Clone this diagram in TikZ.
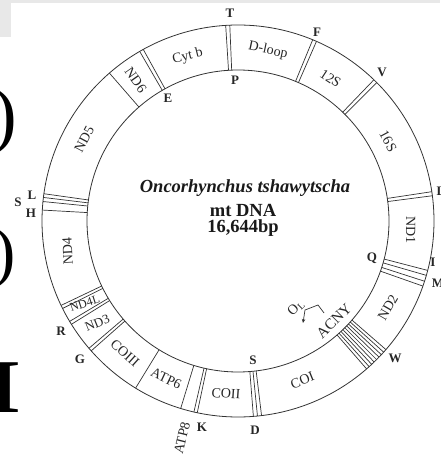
\documentclass[tikz,border=0pt]{standalone}
\usepackage{fontspec}
\setmainfont{Liberation Serif}
\usetikzlibrary{arrows.meta}
\begin{document}
\begin{tikzpicture}[x=1pt,y=1pt,
  ring/.style={line width=0.8pt, draw=black!80},
  sep/.style={line width=0.7pt, draw=black!80},
  gene/.style={font=\fontsize{14}{14}\selectfont, text=black!85, inner sep=0pt},
  site/.style={font=\fontsize{13}{13}\selectfont\bfseries, text=black!85, inner sep=0pt},
  titletext/.style={text=black!90, inner sep=0pt},
  artifact/.style={fill=black!9, draw=none},
  cropped/.style={anchor=base west, inner sep=0pt, text=black}
]
\useasboundingbox (0,0) rectangle (440,461);
% cropped fragments at the left edge
\fill[artifact] (0,458) rectangle (440,461);
\fill[artifact] (0,424) rectangle (11,461);
\node[cropped, font=\fontsize{74}{74}\selectfont] (paren1) at (-8,321) {)};
\node[cropped, font=\fontsize{67}{67}\selectfont] (paren2) at (-7,186) {)};
\node[cropped, font=\fontsize{76}{76}\selectfont\bfseries, xscale=1.25] (capI) at (-16,48) {I};

\begin{scope}[shift={(238,240)}]
\draw[ring] (0,0) circle[radius=196pt];
\draw[ring] (0,0) circle[radius=151pt];
% gene boundaries
\foreach \a in {131, 238.5, 253, 92.4, 93.6, 66.4, 67.6, 44.9, 46.1, 7.4, 8.6,
  118.9, 120.1, 205.5, 206.5, 210.8, 211.8, 220.5, 221.5, 257, 258,
  274.5, 275.7, 276.9, 172, 173.1, 174.3, 176.8, -14.6, -16.1, -17.9, -19.4}
  \draw[sep] (\a:151pt) -- (\a:196pt);
\foreach \a in {-41,-42,...,-49}
  \draw[sep] (\a:151pt) -- (\a:196pt);

% gene labels
\node[gene, rotate=-12] (gDloop) at (80:173pt) {D-loop};
\node[gene, rotate=-33] (g12S) at (57:170pt) {12S};
\node[gene, rotate=-62] (g16S) at (28:170pt) {16S};
\node[gene, rotate=-90] (gND1) at (-3:173pt) {ND1};
\node[gene, rotate=60] (gND2) at (-30:173pt) {ND2};
\node[gene, rotate=22] (gCOI) at (-68:172pt) {COI};
\node[gene, rotate=-4] (gCOII) at (-94:173pt) {COII};
\node[gene, rotate=-25] (gATP6) at (245.5:173pt) {ATP6};
\node[gene, rotate=-42] (gCOIII) at (229.5:174pt) {COIII};
\node[gene, rotate=22, font=\fontsize{13}{13}\selectfont] (gND3) at (216:174pt) {ND3};
\node[gene, rotate=18, font=\fontsize{12}{12}\selectfont] (gND4L) at (208.3:174pt) {ND4L};
\node[gene, rotate=93] (gND4) at (190:173pt) {ND4};
\node[gene, rotate=62] (gND5) at (152:174pt) {ND5};
\node[gene, rotate=-55] (gND6) at (126:174pt) {ND6};
\node[gene, rotate=14] (gCytb) at (107:172pt) {Cyt b};
\node[gene, rotate=76] (gATP8) at (-56,-217) {ATP8};
\node[gene, rotate=45, font=\fontsize{15}{15}\selectfont] (gACNY) at (96,-100) {ACNY};
\node[gene, rotate=45] (gOL) at (58,-87) {O\textsubscript{L}};

% tRNA letters
\node[site] (tT) at (-8,208) {T};
\node[site] (tP) at (-3,141) {P};
\node[site] (tF) at (79,189) {F};
\node[site] (tV) at (144,149) {V};
\node[site] (tLr) at (203,30) {L};
\node[site] (tQ) at (134,-37) {Q};
\node[site] (tI) at (195,-41) {I};
\node[site] (tM) at (200,-62) {M};
\node[site] (tW) at (157,-137) {W};
\node[site] (tS) at (15,-139) {S};
\node[site] (tD) at (17,-209) {D};
\node[site] (tK) at (-36,-206) {K};
\node[site] (tG) at (-158,-138) {G};
\node[site] (tR) at (-177,-110) {R};
\node[site] (tH) at (-207,8) {H};
\node[site] (tLl) at (-206,26) {L};
\node[site] (tSl) at (-220,19) {S};
\node[site] (tE) at (-70,123) {E};

% origin of light-strand replication
\coordinate (olEnd) at (86,-92);
\coordinate (olC2) at (80,-84);
\coordinate (olC1) at (67,-89);
\coordinate (olTip) at (65,-102);
\draw[sep, -{Stealth[length=4pt,width=3.5pt]}] (olEnd) -- (olC2) -- (olC1) -- (olTip);

% centre title
\node[titletext, font=\fontsize{18.5}{20}\selectfont\bfseries\itshape] (sp) at (7,33) {Oncorhynchus tshawytscha};
\node[titletext, font=\fontsize{18.5}{20}\selectfont\bfseries] (mt) at (5,11) {mt DNA};
\node[titletext, font=\fontsize{18.5}{20}\selectfont\bfseries] (bp) at (5,-7) {16,644bp};
\end{scope}
\end{tikzpicture}
\end{document}
